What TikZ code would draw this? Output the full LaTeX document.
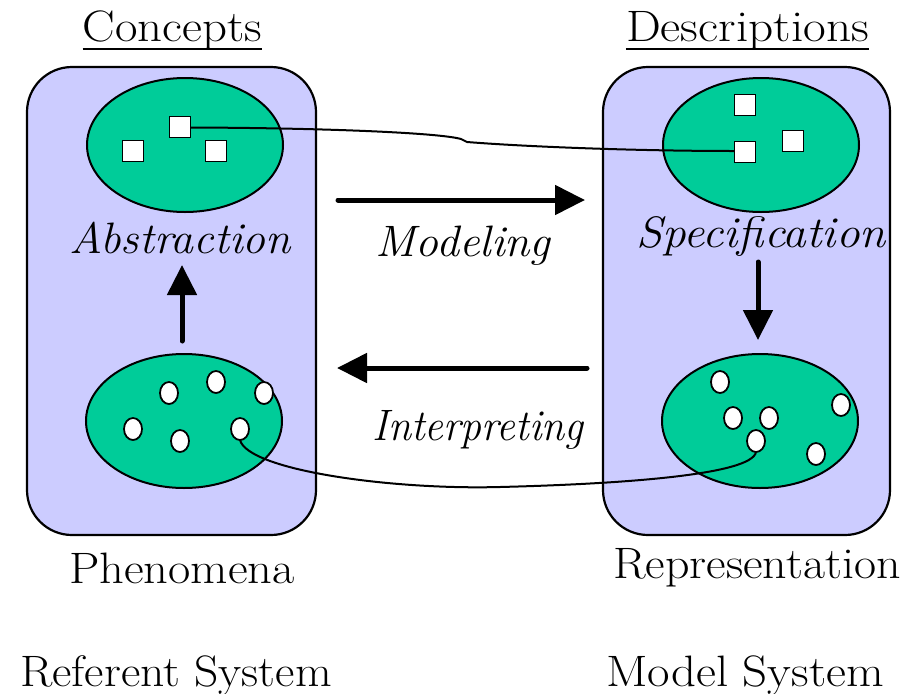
\documentclass[tikz,border=0pt]{standalone}
\usepackage{fontspec}
\usepackage{graphicx}
\usetikzlibrary{shapes.geometric,arrows.meta}
\definecolor{lav}{HTML}{CCCCFF}
\definecolor{grn}{HTML}{00CC99}
\begin{document}
\begin{tikzpicture}[x=1pt,y=-1pt,
  sysbox/.style={draw, line width=2.2pt, fill=lav, rounded corners=45pt, minimum width=289pt, minimum height=468pt, inner sep=0pt},
  blob/.style={draw, line width=2pt, fill=grn, ellipse, minimum width=196pt, minimum height=134pt, inner sep=0pt},
  sq/.style={draw, line width=1.8pt, fill=white, minimum size=21pt, inner sep=0pt},
  dot/.style={draw, line width=1.8pt, fill=white, ellipse, minimum width=18pt, minimum height=22pt, inner sep=0pt},
  lbl/.style={inner sep=0pt, anchor=base, font=\rmfamily\fontsize{44}{50}\selectfont},
  ilbl/.style={inner sep=0pt, anchor=base, font=\rmfamily\fontsize{44}{50}\selectfont\itshape},
  bigarrow/.style={line width=5pt, line cap=round, -{Triangle[length=30pt,width=29pt]}},
  link/.style={line width=2pt},
  uline/.style={line width=2pt}
]
\useasboundingbox (0,0) rectangle (906,694);

% system boxes
\node[sysbox] (lbox) at (171.5,301) {};
\node[sysbox, minimum width=287pt] (rbox) at (746.5,301) {};

% blobs
\node[blob] (lt) at (185,145) {};
\node[blob] (rt) at (761,145) {};
\node[blob] (lb) at (184,421) {};
\node[blob] (rb) at (760,421) {};

% connecting lines
\draw[link] (190.5,127.5) .. controls (330,128) and (440,133) .. (461,139)
  -- (467,142) .. controls (530,147) and (640,151) .. (734.5,151);
\draw[link] (240,440) .. controls (248,470) and (390,490) .. (500,487)
  .. controls (620,484) and (752,475) .. (756,452);

% squares
\node[sq] (s1) at (133,151) {};
\node[sq] (s2) at (180,127) {};
\node[sq] (s3) at (216,151) {};
\node[sq] (t1) at (745,105) {};
\node[sq] (t2) at (745,152) {};
\node[sq] (t3) at (793,141) {};

% circles
\node[dot] (c1) at (133,429) {};
\node[dot] (c2) at (169,393) {};
\node[dot] (c3) at (216,382) {};
\node[dot] (c4) at (264,393) {};
\node[dot] (c5) at (180,441) {};
\node[dot] (c6) at (240,429) {};
\node[dot] (d1) at (720,382) {};
\node[dot] (d2) at (733,418) {};
\node[dot] (d3) at (769,418) {};
\node[dot] (d4) at (841,405) {};
\node[dot] (d5) at (756,441) {};
\node[dot] (d6) at (816,454) {};

% arrows
\coordinate (m1) at (338,200);
\coordinate (m2) at (585,200);
\draw[bigarrow] (m1) -- (m2);
\coordinate (i1) at (587,368);
\coordinate (i2) at (337,368);
\draw[bigarrow] (i1) -- (i2);
\coordinate (a1) at (182,341);
\coordinate (a2) at (182,265);
\draw[bigarrow] (a1) -- (a2);
\coordinate (p1) at (758,262);
\coordinate (p2) at (758,340);
\draw[bigarrow] (p1) -- (p2);

% labels
\node[lbl] (concepts) at (172.5,41) {\scalebox{1.11}[1]{Concepts}};
\draw[uline] ([yshift=-8pt]concepts.base west) -- ([yshift=-8pt]concepts.base east);
\node[lbl] (descr) at (747.5,41) {\scalebox{1.12}[1]{Descriptions}};
\draw[uline] ([yshift=-8pt]descr.base west) -- ([yshift=-8pt]descr.base east);
\node[ilbl] (abstr) at (180,253) {\scalebox{1.04}[1]{Abstraction}};
\node[ilbl] (spec) at (761,247) {\scalebox{1.075}[1]{Specification}};
\node[ilbl] (model) at (463,256) {\scalebox{1.04}[1]{Modeling}};
\node[ilbl] (interp) at (478,440) {\scalebox{0.95}[1]{Interpreting}};
\node[lbl] (phen) at (182,583) {\scalebox{1.1}[1]{Phenomena}};
\node[lbl] (repr) at (757,578) {\scalebox{1.09}[1]{Representation}};
\node[lbl] (refsys) at (176,686) {\scalebox{1.08}[1]{Referent System}};
\node[lbl] (modsys) at (745,686) {\scalebox{1.11}[1]{Model System}};
\end{tikzpicture}
\end{document}
